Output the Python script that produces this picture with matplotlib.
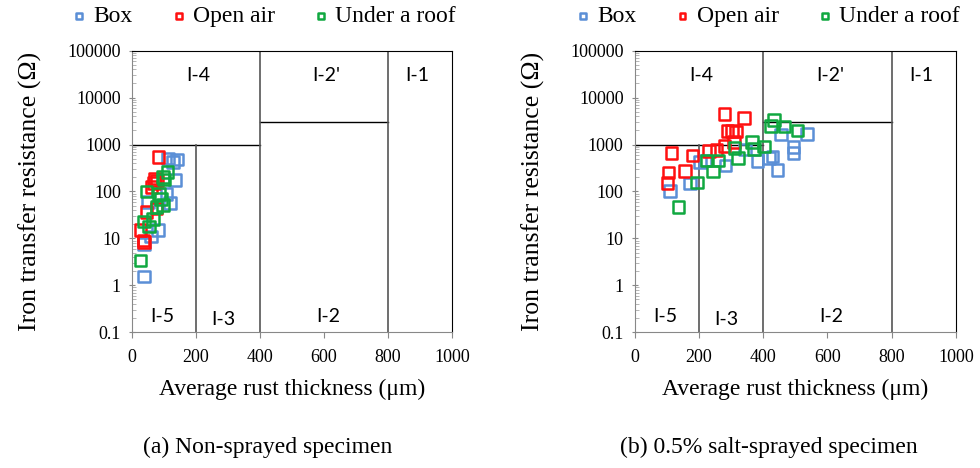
import matplotlib.pyplot as plt
import numpy as np

# (a) Non-sprayed specimen
a_box_x = [113, 140, 129, 134, 108, 118, 50, 82, 59, 37, 37]
a_box_y = [500, 480, 430, 178, 89, 57, 59, 15, 11, 7.6, 1.55]
a_open_x = [83, 72, 78, 68, 61, 76, 45, 26, 38, 36]
a_open_y = [543, 190, 170, 150, 123, 43, 36, 15, 8.3, 9.0]
a_roof_x = [111, 97, 45, 85, 97, 76, 66, 37, 53, 27, 90, 100]
a_roof_y = [257, 205, 100, 89, 52, 46, 26, 23, 18, 3.4, 70, 180]

# (b) 0.5% salt-sprayed specimen
b_box_x = [110, 172, 204, 219, 283, 344, 382, 419, 429, 445, 455, 536, 494, 494]
b_box_y = [102, 148, 425, 460, 355, 790, 440, 510, 560, 290, 1630, 1660, 890, 670]
b_open_x = [279, 341, 289, 302, 316, 309, 279, 255, 232, 115, 180, 157, 105, 102]
b_open_y = [4500, 3700, 1950, 1950, 1900, 1150, 935, 760, 720, 670, 580, 275, 253, 150]
b_roof_x = [136, 193, 244, 224, 261, 322, 311, 365, 372, 403, 434, 424, 467, 507]
b_roof_y = [47, 155, 265, 460, 455, 510, 850, 1150, 810, 910, 3300, 2520, 2410, 1990]

region_labels = ['I-4', "I-2'", 'I-1', 'I-5', 'I-3', 'I-2']
region_x = [208, 608, 893, 94, 286, 613]
region_y = [29000, 29000, 29000, 0.22, 0.19, 0.22]

colors = {'Box': '#5b8fd6', 'Open air': '#ff1010', 'Under a roof': '#10a840'}
serif = 'Liberation Serif'
sans = 'Lato'

fig = plt.figure(figsize=(9.8, 4.68), dpi=100)
ax1 = fig.add_axes([0.1347, 0.29, 0.3265, 0.6017])
ax2 = fig.add_axes([0.6477, 0.29, 0.3276, 0.6017])


def draw_panel(ax, data, caption, cap_x, leg_x):
    for name, (xs, ys) in data.items():
        ax.scatter(xs, ys, marker='s', s=70, facecolors='none',
                   edgecolors=colors[name], linewidths=1.8, zorder=3, label=name)
    ax.set_yscale('log')
    ax.set_xlim(0, 1000)
    ax.set_ylim(0.1, 100000)
    # classification boundaries
    ax.plot([0, 400], [1000, 1000], color='black', lw=1)
    ax.plot([200, 200], [0.1, 1000], color='#555555', lw=1.2)
    ax.plot([400, 800], [3000, 3000], color='black', lw=1)
    ax.axvline(400, color='#555555', lw=1.2)
    ax.axvline(800, color='#555555', lw=1.2)
    for lab, x, y in zip(region_labels, region_x, region_y):
        ax.text(x, y, lab, ha='center', va='center', fontsize=14, family=sans)
    ax.spines['top'].set_color('black')
    ax.spines['right'].set_color('black')
    ax.spines['left'].set_color('#888888')
    ax.spines['bottom'].set_color('#888888')
    ax.set_xticks([0, 200, 400, 600, 800, 1000])
    ax.set_xticklabels(['0', '200', '400', '600', '800', '1000'])
    ax.set_yticks([0.1, 1, 10, 100, 1000, 10000, 100000])
    ax.set_yticklabels(['0.1', '1', '10', '100', '1000', '10000', '100000'])
    ax.tick_params(axis='both', which='major', labelsize=13, color='#888888', length=4, pad=6)
    ax.tick_params(axis='x', which='major', pad=8)
    ax.tick_params(axis='y', which='major', direction='inout')
    ax.tick_params(axis='y', which='minor', direction='in', color='#aaaaaa', length=3)
    for t in ax.get_xticklabels() + ax.get_yticklabels():
        t.set_family(serif)
    ax.set_xlabel('Average rust thickness (μm)', fontsize=17, family=serif, labelpad=9)
    ax.set_ylabel('Iron transfer resistance (Ω)', fontsize=18.5, family=serif, labelpad=18)
    fig.text(cap_x, 0.043, caption, ha='center', va='center', fontsize=17, family=serif)
    handles, labels = ax.get_legend_handles_labels()
    fig.legend(handles, labels, loc='center', bbox_to_anchor=(leg_x, 0.965), ncol=3,
               frameon=False, prop={'family': serif, 'size': 17}, handletextpad=0.1,
               columnspacing=1.45, markerscale=0.5, handlelength=1.0)


draw_panel(ax1, {'Box': (a_box_x, a_box_y), 'Open air': (a_open_x, a_open_y),
                 'Under a roof': (a_roof_x, a_roof_y)}, '(a) Non-sprayed specimen',
           0.273, 0.267)
draw_panel(ax2, {'Box': (b_box_x, b_box_y), 'Open air': (b_open_x, b_open_y),
                 'Under a roof': (b_roof_x, b_roof_y)}, '(b) 0.5% salt-sprayed specimen',
           0.784, 0.781)

fig.savefig('out.png', dpi=100)
